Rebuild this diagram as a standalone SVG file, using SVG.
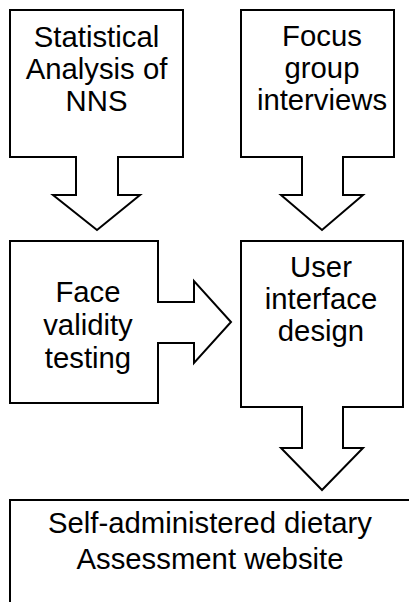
<svg xmlns="http://www.w3.org/2000/svg" width="409" height="602" viewBox="0 0 409 602">
<style>
.shape{fill:#fff;stroke:#000;stroke-width:2;stroke-linejoin:miter}
.t{font-family:"Liberation Sans",Arial,sans-serif;font-size:29.3px;fill:#000;text-anchor:middle}
</style>
<rect width="409" height="602" fill="#fff"/>
<g id="node-stats">
<path class="shape" d="M10,10 H183 V157 H118 V195 H140 L97,230 L53,195 H76 V157 H10 Z"/>
<text class="t" x="96.5" y="46.5">Statistical</text>
<text class="t" x="96.5" y="78.5">Analysis of</text>
<text class="t" x="96.5" y="110.5">NNS</text>
</g>
<g id="node-focus">
<path class="shape" d="M241,10 H394 V157 H343 V195 H363 L322,230 L281,195 H302 V157 H241 Z"/>
<text class="t" x="322" y="46">Focus</text>
<text class="t" x="322" y="78">group</text>
<text class="t" x="322" y="110">interviews</text>
</g>
<g id="node-face">
<path class="shape" d="M10,241 H158 V302 H194 V281 L231,322 L194,363 V343 H158 V403 H10 Z"/>
<text class="t" x="88" y="302">Face</text>
<text class="t" x="88" y="335">validity</text>
<text class="t" x="88" y="367.5">testing</text>
</g>
<g id="node-ui">
<path class="shape" d="M241,241 H403 V407 H343 V448 H363 L322,490 L281,448 H302 V407 H241 Z"/>
<text class="t" x="321" y="276.5">User</text>
<text class="t" x="321" y="308.5">interface</text>
<text class="t" x="321" y="340.5">design</text>
</g>
<g id="node-website">
<rect class="shape" x="10" y="500" width="420" height="200"/>
<text class="t" x="210" y="533">Self-administered dietary</text>
<text class="t" x="210" y="568.5">Assessment website</text>
</g>
<g id="connectors"></g>
</svg>
